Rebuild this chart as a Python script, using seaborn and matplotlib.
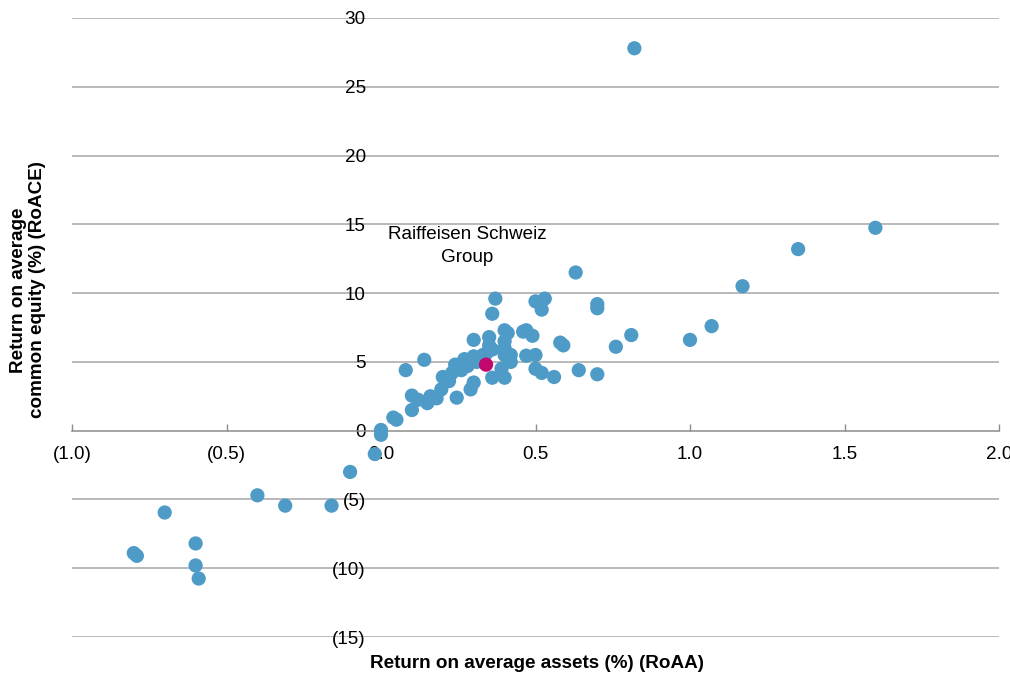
import matplotlib
matplotlib.use("Agg")
import matplotlib.pyplot as plt
import seaborn as sns
import pandas as pd
from matplotlib.ticker import FuncFormatter, FixedLocator

# Peer banks: RoAA (%) and RoACE (%)
roaa = [0.00, 0.00, -0.02, 0.04, 0.05, 0.08, 0.14, 0.10, 0.10, 0.12,
        0.15, 0.16, 0.18, 0.195, 0.20, 0.22, 0.245, 0.24, 0.23, 0.25,
        0.27, 0.28, 0.30, 0.31, 0.33, 0.36, 0.30, 0.35, 0.35, 0.37,
        0.36, 0.40, 0.41, 0.40, 0.40, 0.40, 0.42, 0.42, 0.39, 0.36,
        0.40, 0.30, 0.29, 0.46, 0.47, 0.49, 0.47, 0.50, 0.50, 0.52,
        0.56, 0.50, 0.53, 0.52, 0.63, 0.58, 0.59, 0.64, 0.70, 0.70,
        0.70, 0.76, 0.81, 1.00, 1.07, 1.17, 1.35, 1.60, 0.82,
        0.22, 0.26, 0.28, 0.32, 0.34,
        -0.10, -0.40, -0.31, -0.16, -0.70, -0.60, -0.80, -0.79, -0.60, -0.59]
roace = [0.05, -0.3, -1.7, 0.95, 0.8, 4.4, 5.15, 2.55, 1.5, 2.25,
         2.0, 2.5, 2.35, 3.0, 3.9, 3.9, 2.4, 4.8, 4.2, 4.5,
         5.2, 4.7, 5.4, 5.0, 5.5, 5.9, 6.6, 6.8, 6.2, 9.6,
         8.5, 7.3, 7.1, 6.5, 6.0, 5.5, 5.5, 5.0, 4.5, 3.85,
         3.85, 3.5, 3.0, 7.2, 7.3, 6.9, 5.45, 5.5, 4.5, 4.2,
         3.9, 9.4, 9.6, 8.8, 11.5, 6.4, 6.2, 4.4, 4.1, 9.2,
         8.9, 6.1, 6.95, 6.6, 7.6, 10.5, 13.2, 14.75, 27.8,
         3.6, 4.4, 5.0, 5.3, 5.6,
         -3.0, -4.7, -5.45, -5.45, -5.95, -8.2, -8.9, -9.1, -9.8, -10.75]

# Highlighted bank
focus_name = "Raiffeisen Schweiz\nGroup"
focus_roaa = [0.34]
focus_roace = [4.8]

x_ticks = [-1.0, -0.5, 0.0, 0.5, 1.0, 1.5, 2.0]
y_ticks = [-15, -10, -5, 0, 5, 10, 15, 20, 25, 30]

peers = pd.DataFrame({"RoAA": roaa, "RoACE": roace, "grp": "peer"})
focus = pd.DataFrame({"RoAA": focus_roaa, "RoACE": focus_roace, "grp": "focus"})
df = pd.concat([peers, focus], ignore_index=True)

sns.set_theme(style="white")
plt.rcParams["font.family"] = ["Liberation Sans", "DejaVu Sans"]

FS = 13.6

fig = plt.figure(figsize=(10.1, 6.75), dpi=100)
ax = fig.add_axes([72 / 1010, 38 / 675, (999 - 72) / 1010, (637 - 18) / 675])

grid_col = "#a6a6a6"
for v in y_ticks:
    if v != 0:
        ax.axhline(v, color=grid_col, lw=1.1, zorder=0)

sns.scatterplot(data=df, x="RoAA", y="RoACE", hue="grp",
                palette={"peer": "#4d9bc6", "focus": "#c2086e"},
                s=105, edgecolor="none", linewidth=0, legend=False,
                ax=ax, zorder=3)

ax.set_xlim(-1.0, 2.0)
ax.set_ylim(-15, 30)

for side in ["top", "right", "left"]:
    ax.spines[side].set_visible(False)
ax.spines["bottom"].set_position(("data", 0))
ax.spines["bottom"].set_color("#8c8c8c")
ax.spines["bottom"].set_linewidth(1.1)
ax.spines["left"].set_position(("data", 0))

ax.xaxis.set_major_locator(FixedLocator(x_ticks))
ax.yaxis.set_major_locator(FixedLocator(y_ticks))

def fmt_x(v, pos):
    return f"({abs(v):.1f})" if v < 0 else f"{v:.1f}"

def fmt_y(v, pos):
    v = int(round(v))
    return f"({abs(v)})" if v < 0 else f"{v}"

ax.xaxis.set_major_formatter(FuncFormatter(fmt_x))
ax.yaxis.set_major_formatter(FuncFormatter(fmt_y))

ax.tick_params(axis="x", direction="in", length=5, width=1, color="#8c8c8c",
               pad=11, labelsize=FS, labelcolor="black", bottom=True)
ax.tick_params(axis="y", length=0, pad=11, labelsize=FS, labelcolor="black", left=True)

ax.set_xlabel("")
ax.set_ylabel("")
fig.text(537 / 1010, 1 - 663 / 675, "Return on average assets (%) (RoAA)",
         ha="center", va="center", fontsize=FS, fontweight="bold", color="black")
fig.text(28 / 1010, 1 - 290 / 675, "Return on average\ncommon equity (%) (RoACE)",
         ha="center", va="center", rotation=90, fontsize=FS, fontweight="bold",
         linespacing=1.1, color="black")

ax.text(0.28, 13.4, focus_name, ha="center", va="center", fontsize=FS,
        linespacing=1.45, color="black")

fig.savefig("out.png", dpi=100)
